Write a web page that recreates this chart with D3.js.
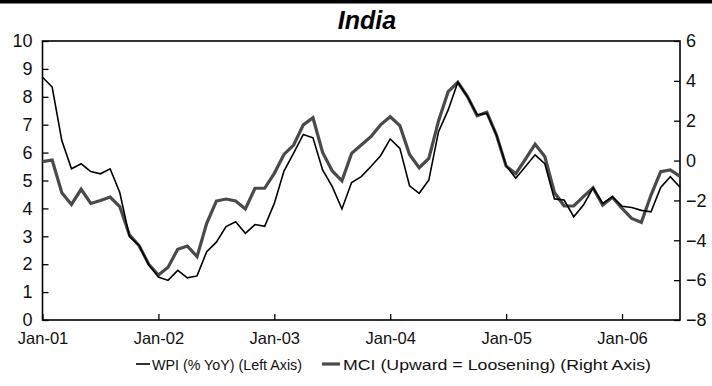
<!DOCTYPE html>
<html>
<head>
<meta charset="utf-8">
<script src="https://cdn.jsdelivr.net/npm/d3@7"></script>
<style>
  html, body { margin: 0; padding: 0; background: #fff; }
  svg { display: block; }
  .ylab { font-family: "Liberation Sans", Arial, sans-serif; font-size: 18px; fill: #111; }
  .xlab { font-family: "Liberation Sans", Arial, sans-serif; font-size: 16.5px; fill: #111; }
  .legend-label { font-family: "Liberation Sans", Arial, sans-serif; font-size: 15.5px; fill: #111; }
  .title { font-family: "Liberation Sans", Arial, sans-serif; font-weight: bold; font-style: italic; font-size: 25px; fill: #000; }
</style>
</head>
<body>
<svg id="chart" width="712" height="386"></svg>
<script>
// ---- Data (monthly, Jan-2001 .. Jul-2006) ----
const wpi = [8.7, 8.35, 6.43, 5.42, 5.6, 5.32, 5.24, 5.42, 4.57, 2.99, 2.67, 1.98,
  1.54, 1.42, 1.78, 1.51, 1.58, 2.45, 2.79, 3.35, 3.52, 3.11, 3.42, 3.36,
  4.18, 5.34, 5.98, 6.65, 6.53, 5.38, 4.78, 3.98, 4.93, 5.14, 5.5, 5.89,
  6.49, 6.15, 4.81, 4.54, 5.02, 6.75, 7.53, 8.52, 8.0, 7.35, 7.41, 6.63,
  5.53, 5.08, 5.5, 5.92, 5.6, 4.34, 4.3, 3.7, 4.12, 4.74, 4.18, 4.42,
  4.08, 4.03, 3.93, 3.88, 4.75, 5.14, 4.76];
const mci = [-0.05, 0.03, -1.61, -2.2, -1.44, -2.15, -2.0, -1.83, -2.31, -3.73, -4.27, -5.2,
  -5.74, -5.35, -4.45, -4.29, -4.82, -3.15, -2.03, -1.93, -2.03, -2.43, -1.39, -1.39,
  -0.64, 0.31, 0.78, 1.79, 2.15, 0.41, -0.52, -1.02, 0.36, 0.78, 1.2, 1.79,
  2.2, 1.75, 0.31, -0.36, 0.11, 1.99, 3.46, 3.93, 3.21, 2.25, 2.42, 1.28,
  -0.28, -0.66, 0.07, 0.82, 0.2, -1.6, -2.27, -2.28, -1.81, -1.37, -2.23, -1.84,
  -2.4, -2.9, -3.1, -1.73, -0.56, -0.47, -0.79];
const xTickIndex = [0, 12, 24, 36, 48, 60];
const xTickLabels = ["Jan-01", "Jan-02", "Jan-03", "Jan-04", "Jan-05", "Jan-06"];
const leftTicks = [0, 1, 2, 3, 4, 5, 6, 7, 8, 9, 10];
const rightTicks = [-8, -6, -4, -2, 0, 2, 4, 6];
const titleText = "India";
const legendLabels = ["WPI (% YoY) (Left Axis)", "MCI (Upward = Loosening) (Right Axis)"];

// ---- Layout ----
const svg = d3.select("#chart");
const L = 42.5, R = 680, T = 41, B = 320;

const x = d3.scaleLinear().domain([0, wpi.length - 1]).range([L, R]);
const yL = d3.scaleLinear().domain([0, 10]).range([B, T]);
const yR = d3.scaleLinear().domain([-8, 6]).range([B, T]);

// top rule
svg.append("rect").attr("x", 0).attr("y", 0).attr("width", 712).attr("height", 3.5).attr("fill", "#000");

// title
svg.append("text").attr("class", "title").attr("x", 367).attr("y", 29)
  .attr("text-anchor", "middle").text(titleText);

// frame
svg.append("rect").attr("x", L).attr("y", T).attr("width", R - L).attr("height", B - T)
  .attr("fill", "none").attr("stroke", "#000").attr("stroke-width", 1.6);

function styleAxis(g, cls) {
  g.select(".domain").remove();
  g.selectAll(".tick line").attr("stroke", "#000").attr("stroke-width", 1.3);
  g.selectAll(".tick text").attr("class", cls).attr("font-size", null).attr("font-family", null);
}

// left axis
const leftAxis = d3.axisLeft(yL).tickValues(leftTicks).tickSize(-6).tickPadding(10).tickFormat(d3.format("d"));
styleAxis(svg.append("g").attr("transform", `translate(${L},0)`).call(leftAxis), "ylab");

// right axis
const rightAxis = d3.axisRight(yR).tickValues(rightTicks).tickSize(-6).tickPadding(6).tickFormat(d3.format("d"));
styleAxis(svg.append("g").attr("transform", `translate(${R},0)`).call(rightAxis), "ylab");

// bottom axis
const bottomAxis = d3.axisBottom(x).tickValues(xTickIndex).tickSize(-6).tickPadding(12)
  .tickFormat((d, i) => xTickLabels[i]);
styleAxis(svg.append("g").attr("transform", `translate(0,${B})`).call(bottomAxis), "xlab");

// lines
const lineL = d3.line().x((d, i) => x(i)).y(d => yL(d));
const lineR = d3.line().x((d, i) => x(i)).y(d => yR(d));

svg.append("path").datum(mci).attr("d", lineR).attr("fill", "none")
  .attr("stroke", "#4a4a4a").attr("stroke-width", 3.2).attr("stroke-linejoin", "miter");
svg.append("path").datum(wpi).attr("d", lineL).attr("fill", "none")
  .attr("stroke", "#000").attr("stroke-width", 1.6).attr("stroke-linejoin", "miter");

// legend
const lg = svg.append("g");
lg.append("line").attr("x1", 136).attr("x2", 150).attr("y1", 364).attr("y2", 364)
  .attr("stroke", "#000").attr("stroke-width", 1.6);
lg.append("text").attr("class", "legend-label").attr("x", 152).attr("y", 370)
  .attr("textLength", 150).attr("lengthAdjust", "spacingAndGlyphs").text(legendLabels[0]);
lg.append("line").attr("x1", 322).attr("x2", 340).attr("y1", 364).attr("y2", 364)
  .attr("stroke", "#4a4a4a").attr("stroke-width", 3.2);
lg.append("text").attr("class", "legend-label").attr("x", 343).attr("y", 370)
  .attr("textLength", 308).attr("lengthAdjust", "spacingAndGlyphs").text(legendLabels[1]);
</script>
</body>
</html>
